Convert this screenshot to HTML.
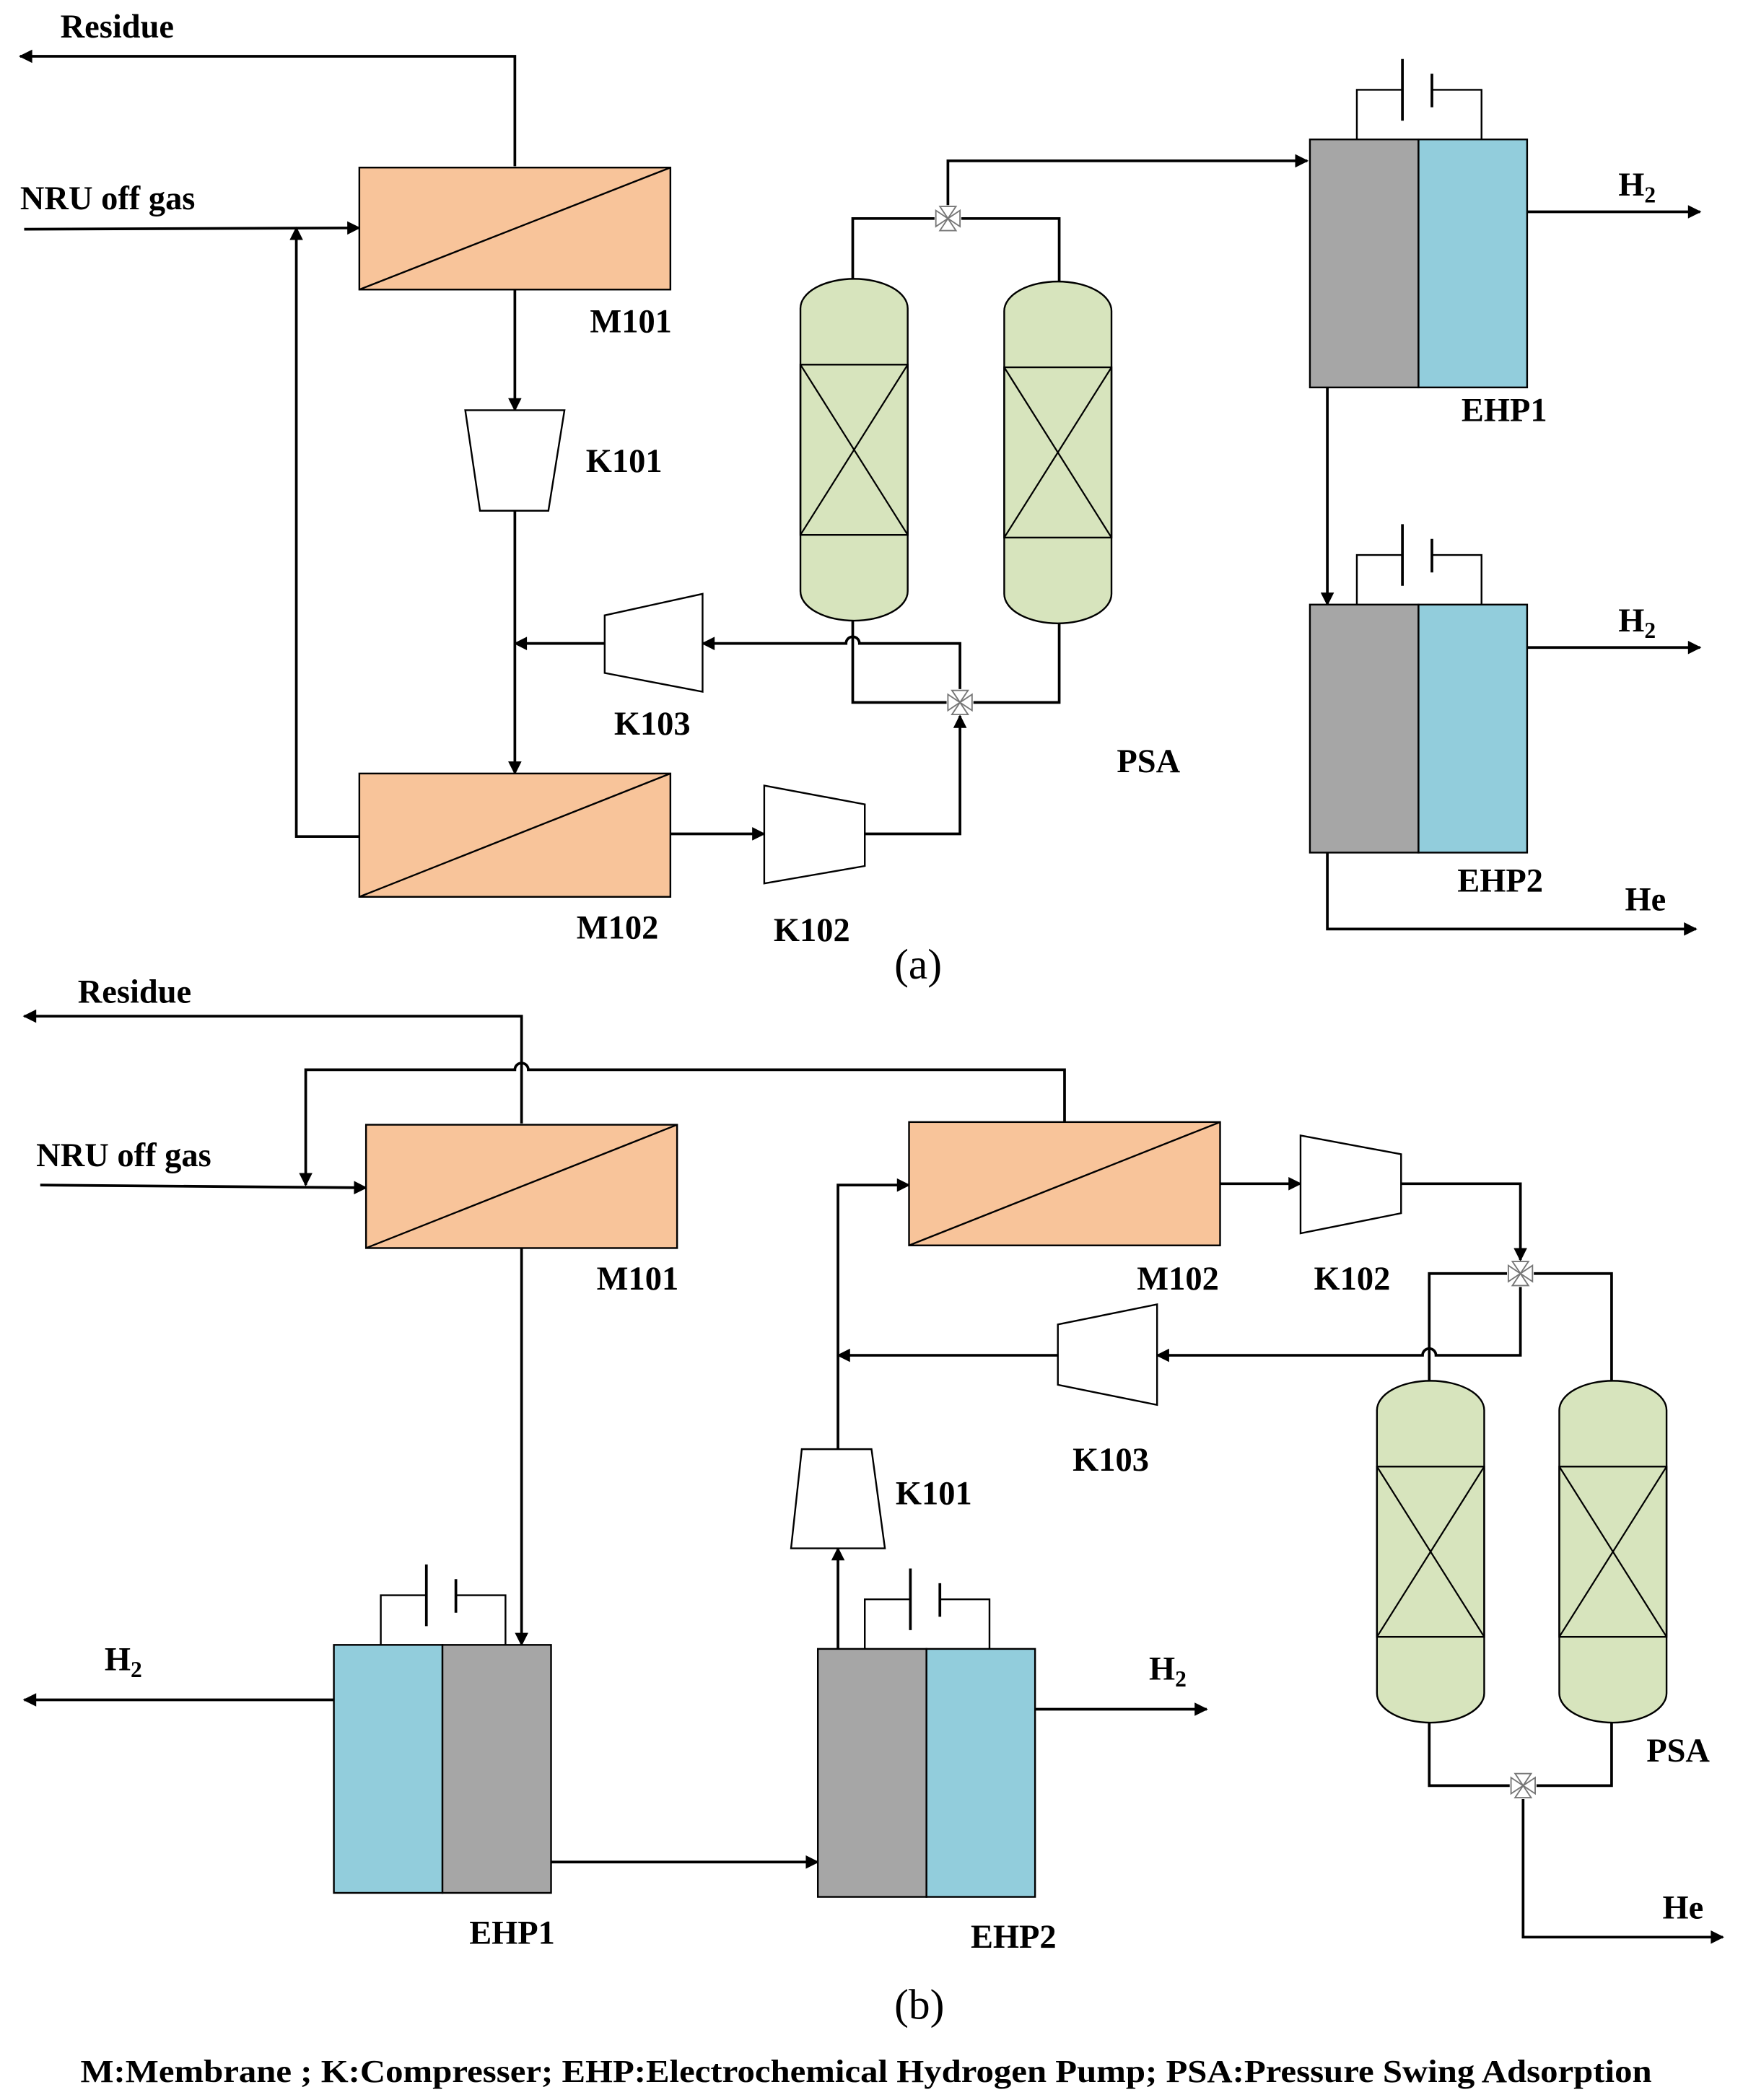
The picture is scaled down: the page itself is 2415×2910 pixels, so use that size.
<!DOCTYPE html>
<html><head><meta charset="utf-8"><style>html,body{margin:0;padding:0;background:#fff}svg{display:block}</style></head><body>
<svg xmlns="http://www.w3.org/2000/svg" width="2415" height="2910" viewBox="0 0 1300 1566.5">
<defs>
<marker id="ar" viewBox="0 0 10 10" refX="9" refY="5" markerWidth="12" markerHeight="10" orient="auto" markerUnits="userSpaceOnUse"><path d="M0,0 L10,5 L0,10 z" fill="#000"/></marker>
<g id="valve"><path d="M-9,-6 L9,6 L9,-6 L-9,6 z" fill="#fff" stroke="#777" stroke-width="1"/><path d="M-6,-9 L6,9 L-6,9 L6,-9 z" fill="#fff" stroke="#777" stroke-width="1"/></g>
<g id="col"><rect x="0" y="0" width="80" height="255" rx="40" ry="22" fill="#d7e4bd" stroke="#000" stroke-width="1.3"/><rect x="0" y="64" width="80" height="127" fill="none" stroke="#000" stroke-width="1.3"/><path d="M0,64 L80,191 M80,64 L0,191" stroke="#000" stroke-width="1.2"/></g>
<g id="bat" fill="none" stroke="#000" stroke-width="1.3"><path d="M0,37 V0 H34 M56,0 H93 V37"/><path d="M34,-23 V23 M56,-12 V13" stroke-width="2"/></g>
</defs>
<g font-family="Liberation Serif, serif" font-weight="bold" font-size="25" fill="#000">
<g fill="none" stroke="#000" stroke-width="2">
<path d="M384,124 V42 H15" marker-end="url(#ar)"/>
<path d="M18,171 L268,170" marker-end="url(#ar)"/>
<path d="M384,216 V306" marker-end="url(#ar)"/>
<path d="M384,381 V577" marker-end="url(#ar)"/>
<path d="M268,624 H221 V170" marker-end="url(#ar)"/>
<path d="M500,622 H570" marker-end="url(#ar)"/>
<path d="M645,622 H716 V534" marker-end="url(#ar)"/>
<path d="M716,514 V480 H641 A5,5 0 0 0 631,480 H524" marker-end="url(#ar)"/>
<path d="M451,480 H384" marker-end="url(#ar)"/>
<path d="M636,463 V524 H706 M726,524 H790 V465"/>
<path d="M636,208 V163 H697 M717,163 H790 V210"/>
<path d="M707,153 V120 H975" marker-end="url(#ar)"/>
<path d="M1139,158 H1268" marker-end="url(#ar)"/>
<path d="M990,289 V451" marker-end="url(#ar)"/>
<path d="M1139,483 H1268" marker-end="url(#ar)"/>
<path d="M990,636 V693 H1265" marker-end="url(#ar)"/>
<path d="M389,838 V758 H18" marker-end="url(#ar)"/>
<path d="M794,837 V798 H394 A5,5 0 0 0 384,798 H228 V884" marker-end="url(#ar)"/>
<path d="M30,884 L273,886" marker-end="url(#ar)"/>
<path d="M389,931 V1227" marker-end="url(#ar)"/>
<path d="M625,1230 V1155" marker-end="url(#ar)"/>
<path d="M625,1081 V884 H678" marker-end="url(#ar)"/>
<path d="M910,883 H970" marker-end="url(#ar)"/>
<path d="M1045,883 H1134 V940" marker-end="url(#ar)"/>
<path d="M1134,960 V1011 H1071 A5,5 0 0 0 1061,1011 H863" marker-end="url(#ar)"/>
<path d="M789,1011 H625" marker-end="url(#ar)"/>
<path d="M1066,1030 V950 H1124 M1144,950 H1202 V1030"/>
<path d="M1066,1280 V1332 H1126 M1146,1332 H1202 V1280"/>
<path d="M1136,1342 V1445 H1285" marker-end="url(#ar)"/>
<path d="M249,1268 H18" marker-end="url(#ar)"/>
<path d="M411,1389 H610" marker-end="url(#ar)"/>
<path d="M772,1275 H900" marker-end="url(#ar)"/>
</g>
<g stroke="#000" stroke-width="1.3">
<rect x="268" y="125" width="232" height="91" fill="#f8c49a"/><path d="M268,216 L500,125"/>
<rect x="268" y="577" width="232" height="92" fill="#f8c49a"/><path d="M268,669 L500,577"/>
<rect x="273" y="839" width="232" height="92" fill="#f8c49a"/><path d="M273,931 L505,839"/>
<rect x="678" y="837" width="232" height="92" fill="#f8c49a"/><path d="M678,929 L910,837"/>
<polygon points="347,306 421,306 409,381 358,381" fill="#fff"/>
<polygon points="451,459 524,443 524,516 451,502" fill="#fff"/>
<polygon points="570,586 645,600 645,646 570,659" fill="#fff"/>
<polygon points="598,1081 650,1081 660,1155 590,1155" fill="#fff"/>
<polygon points="789,988 863,973 863,1048 789,1033" fill="#fff"/>
<polygon points="970,847 1045,861 1045,905 970,920" fill="#fff"/>
<rect x="977" y="104" width="81" height="185" fill="#a6a6a6"/><rect x="1058" y="104" width="81" height="185" fill="#92cddc"/>
<rect x="977" y="451" width="81" height="185" fill="#a6a6a6"/><rect x="1058" y="451" width="81" height="185" fill="#92cddc"/>
<rect x="249" y="1227" width="81" height="185" fill="#92cddc"/><rect x="330" y="1227" width="81" height="185" fill="#a6a6a6"/>
<rect x="610" y="1230" width="81" height="185" fill="#a6a6a6"/><rect x="691" y="1230" width="81" height="185" fill="#92cddc"/>
</g>
<use href="#col" x="597" y="208"/><use href="#col" x="749" y="210"/>
<use href="#col" x="1027" y="1030"/><use href="#col" x="1163" y="1030"/>
<use href="#bat" x="1012" y="67"/><use href="#bat" x="1012" y="414"/>
<use href="#bat" x="284" y="1190"/><use href="#bat" x="645" y="1193"/>
<use href="#valve" x="707" y="163"/><use href="#valve" x="716" y="524"/>
<use href="#valve" x="1134" y="950"/><use href="#valve" x="1136" y="1332"/>
<text x="45" y="28">Residue</text>
<text x="15" y="156">NRU off gas</text>
<text x="440" y="248">M101</text>
<text x="437" y="352">K101</text>
<text x="458" y="548">K103</text>
<text x="430" y="700">M102</text>
<text x="577" y="702">K102</text>
<text x="833" y="576">PSA</text>
<text x="1207" y="146">H<tspan font-size="17" dy="5">2</tspan></text>
<text x="1090" y="314">EHP1</text>
<text x="1207" y="471">H<tspan font-size="17" dy="5">2</tspan></text>
<text x="1087" y="665">EHP2</text>
<text x="1212" y="679">He</text>
<text x="667" y="730" font-weight="normal" font-size="32">(a)</text>
<text x="58" y="748">Residue</text>
<text x="27" y="870">NRU off gas</text>
<text x="445" y="962">M101</text>
<text x="848" y="962">M102</text>
<text x="980" y="962">K102</text>
<text x="668" y="1122">K101</text>
<text x="800" y="1097">K103</text>
<text x="1228" y="1314">PSA</text>
<text x="1240" y="1431">He</text>
<text x="78" y="1246">H<tspan font-size="17" dy="5">2</tspan></text>
<text x="857" y="1253">H<tspan font-size="17" dy="5">2</tspan></text>
<text x="350" y="1450">EHP1</text>
<text x="724" y="1453">EHP2</text>
<text x="667" y="1506" font-weight="normal" font-size="32">(b)</text>
<text x="646" y="1553" text-anchor="middle" font-size="24" textLength="1172" lengthAdjust="spacingAndGlyphs">M:Membrane ; K:Compresser; EHP:Electrochemical Hydrogen Pump; PSA:Pressure Swing Adsorption</text>
</g>
</svg>
</body></html>
